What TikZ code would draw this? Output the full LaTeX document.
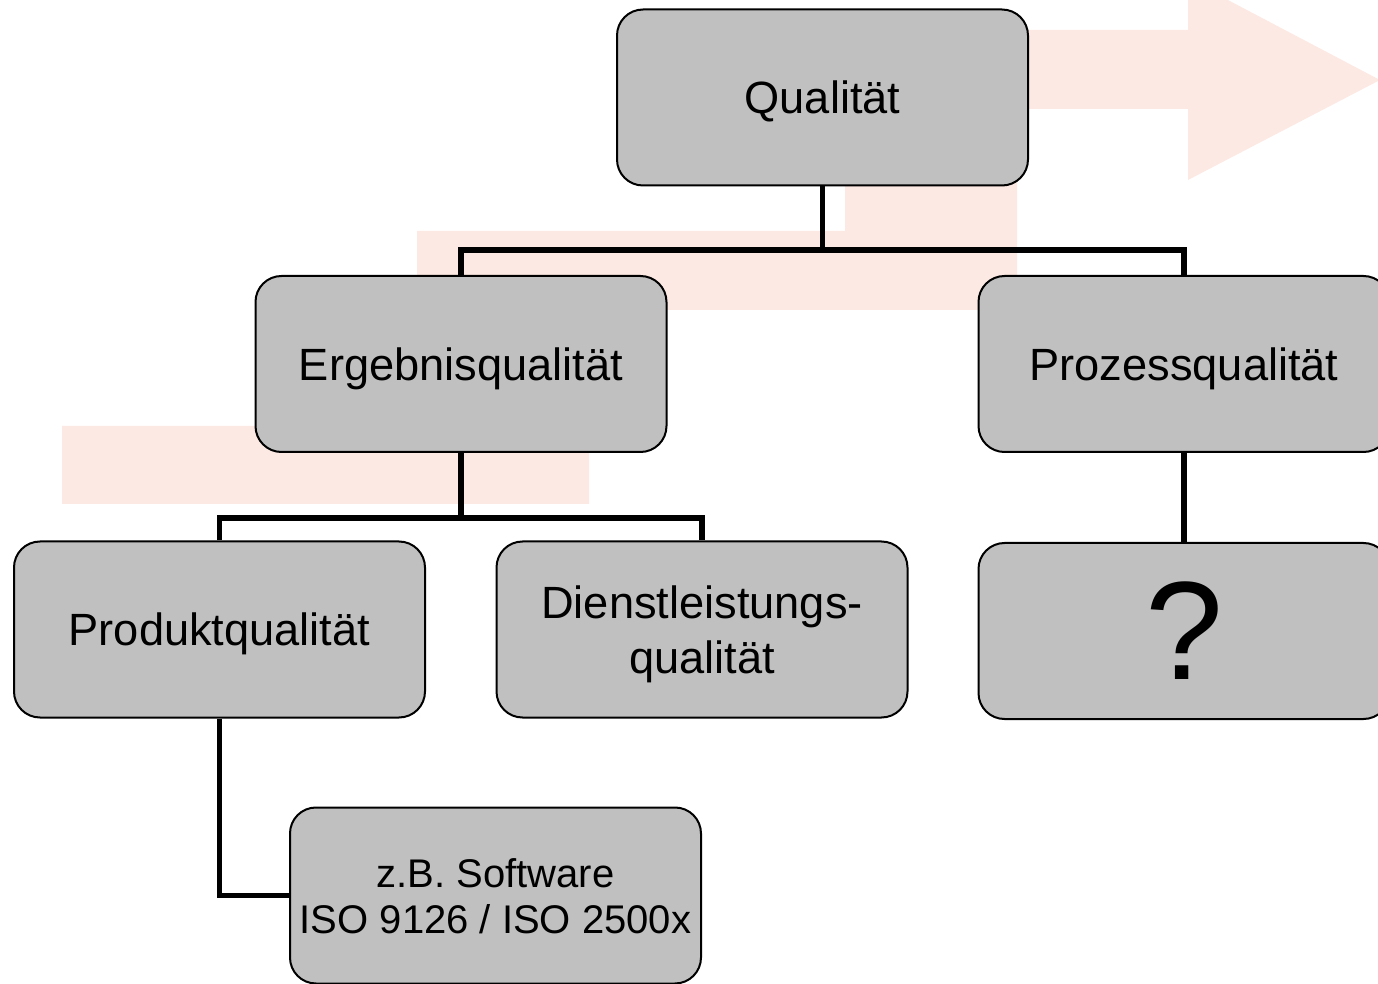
\documentclass[tikz,border=0pt]{standalone}
\usepackage{fontspec}
\setmainfont{Liberation Sans}
\usepackage{xcolor}
\usepackage{tikz}
\definecolor{rosa}{HTML}{FDE9E3}
\definecolor{kasten}{HTML}{C0C0C0}

\begin{document}
\begin{tikzpicture}[x=0.5pt, y=-0.5pt,
    box/.style={draw=black, line width=1pt, fill=kasten, rounded corners=13pt,
      minimum width=205.5pt, minimum height=88pt, align=center, inner sep=0pt,
      text height=16.5pt, text depth=0pt,
      font=\fontsize{22.6}{27.5}\selectfont},
    conn/.style={line width=2.6pt, draw=black}]
  \clip (0,0) rectangle (1378,984);
  \fill[rosa] (62,504) -- (589,504) -- (589,310) -- (1017,310) -- (1017,109)
    -- (1188,109) -- (1188,180) -- (1380,80) -- (1188,-21) -- (1188,30)
    -- (845,30) -- (845,231) -- (417,231) -- (417,426) -- (62,426) -- cycle;
  \node[box] (q) at (822.5,97.5) {Qualität};
  \node[box] (erg) at (461,364) {Ergebnisqualität};
  \node[box] (proz) at (1184,364) {Prozessqualität};
  \node[box] (prod) at (219.5,629.5) {Produktqualität};
  \node[box, text height=44pt] (dienst) at (702,629.5) {Dienstleistungs-\\qualität};
  \node[box, text height=48pt, font=\fontsize{70}{70}\selectfont] (frage) at (1184,631) {?};
  \node[box, text height=37.5pt, font=\fontsize{20}{23}\selectfont] (sw) at (495.5,895.5) {z.B. Software\\ISO 9126 / ISO 2500x};
  \coordinate (qbar) at (822.5,250);
  \coordinate (ebar) at (461,518);
  \draw[conn] (q.south) -- (qbar);
  \draw[conn] (erg.north) |- (qbar) -| (proz.north);
  \draw[conn] (erg.south) -- (ebar);
  \draw[conn] (prod.north) |- (ebar) -| (dienst.north);
  \draw[conn] (proz.south) -- (frage.north);
  \draw[conn] (prod.south) |- (sw.west);
\end{tikzpicture}
\end{document}
